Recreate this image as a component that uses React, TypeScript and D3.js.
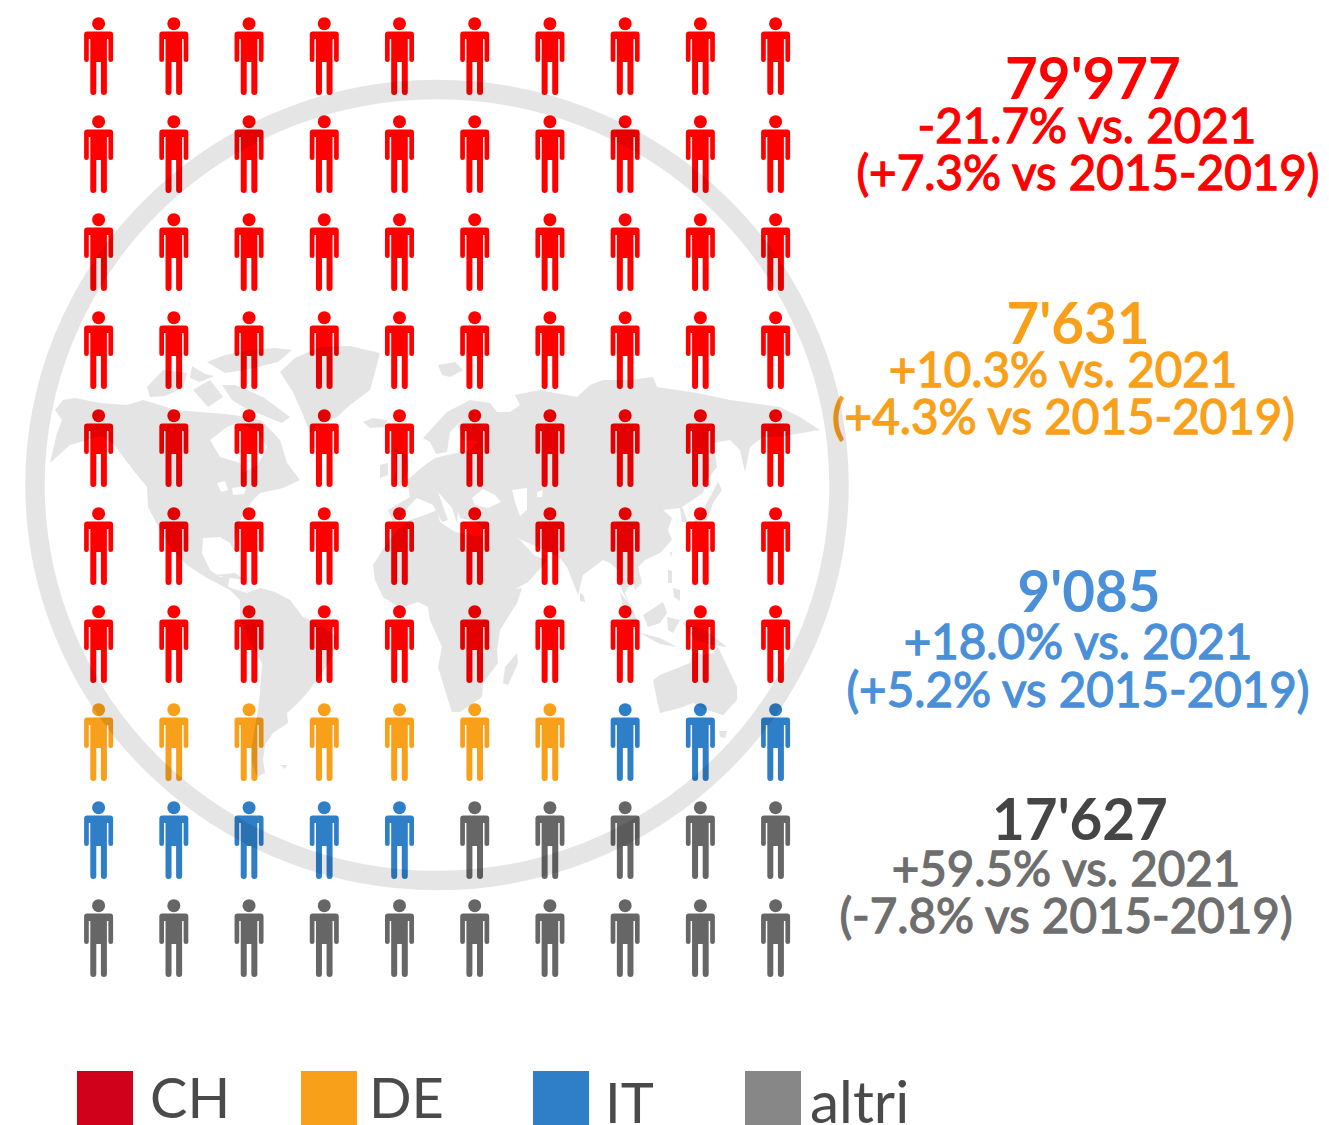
import React from "react";
import * as d3 from "d3";

// ---- data ----
const categories = ["CH", "DE", "IT", "altri"];
const figureCounts = [70, 7, 8, 15];
const figureColors = ["#ff0000", "#f9a01b", "#2f7ec8", "#666666"];
const legendColors = ["#d0021b", "#f9a01b", "#2f7ec8", "#878787"];
const totals = ["79'977", "7'631", "9'085", "17'627"];
const vs2021 = ["-21.7% vs. 2021", "+10.3% vs. 2021", "+18.0% vs. 2021", "+59.5% vs. 2021"];
const vsBaseline = ["(+7.3% vs 2015-2019)", "(+4.3% vs 2015-2019)", "(+5.2% vs 2015-2019)", "(-7.8% vs 2015-2019)"];
const totalColors = ["#ff0000", "#f9a01b", "#4a90d9", "#454545"];
const detailColors = ["#ff0000", "#f9a01b", "#4a90d9", "#6e6e6e"];

const columns = d3.range(10);
const rows = d3.range(10);

// decorative world map outlines, in map units
type Ring = [number, number][];
const northAmerica: Ring[] = [
  [[55,410],[63,400],[75,398],[100,403],[127,405],[143,400],[160,405],[175,410],[200,412],[225,414],[247,417],[262,421],[280,440],[287,463],[300,480],[283,488],[260,493],[253,500],[243,513],[237,530],[233,543],[238,557],[230,543],[220,537],[203,538],[202,553],[210,570],[220,577],[230,575],[228,587],[247,593],[240,600],[230,590],[207,578],[187,565],[172,550],[160,530],[148,507],[147,487],[133,470],[113,443],[100,436],[87,440],[70,445],[50,463],[57,433],[62,420]],
  [[210,440],[227,427],[237,423],[257,430],[267,447],[258,465],[243,473],[240,463],[220,457]],
  [[217,483],[225,481],[228,490],[221,492]],
  [[232,488],[247,486],[244,494],[233,495]],
];
const greenland: Ring[] = [[[280,372],[295,358],[320,347],[350,346],[380,353],[375,372],[370,390],[350,405],[337,417],[318,425],[310,433],[303,415],[293,392]]];
const arcticIslands: Ring[][] = [
  [[[222,385],[235,385],[263,397],[290,417],[282,423],[262,415],[245,408],[232,400]]],
  [[[207,362],[225,355],[250,350],[275,348],[292,350],[278,362],[245,370],[225,373]]],
  [[[147,387],[163,370],[187,373],[183,388],[165,396],[150,397]]],
  [[[193,390],[210,380],[223,397],[208,407]]],
  [[[192,366],[205,374],[214,376],[200,382],[190,378]]],
];
const southAmerica: Ring[] = [[[247,593],[260,588],[275,592],[290,600],[303,617],[320,625],[337,637],[333,655],[323,672],[307,693],[296,705],[287,713],[288,723],[273,733],[265,745],[263,760],[265,773],[257,777],[252,763],[252,745],[255,727],[258,710],[260,693],[262,663],[250,643],[240,620],[240,600]]];
const eurasia: Ring[] = [
  [[393,522],[388,510],[410,497],[407,480],[425,465],[435,458],[447,455],[470,450],[478,441],[462,440],[458,425],[467,415],[450,432],[447,452],[436,454],[430,442],[423,438],[447,412],[470,400],[490,403],[497,412],[510,412],[520,405],[515,395],[540,390],[555,393],[577,397],[590,385],[603,380],[630,380],[653,377],[657,387],[697,393],[730,400],[780,407],[800,417],[820,430],[807,432],[780,437],[763,437],[750,447],[745,472],[740,450],[730,440],[713,443],[717,467],[707,480],[703,493],[682,507],[688,523],[682,522],[680,508],[663,510],[672,518],[668,530],[672,540],[660,553],[645,560],[638,567],[642,583],[635,590],[632,580],[625,593],[630,605],[622,590],[618,570],[610,563],[603,560],[583,575],[578,595],[567,567],[560,558],[540,548],[515,537],[520,540],[535,556],[548,560],[528,582],[505,595],[490,555],[482,535],[482,527],[477,522],[460,518],[458,512],[457,523],[452,508],[438,492],[448,520],[442,522],[433,505],[417,498],[410,505],[400,518]],
  [[472,498],[483,489],[495,495],[501,502],[488,508],[475,505]],
  [[512,490],[527,488],[527,510],[520,516],[515,502]],
  [[537,492],[543,490],[542,497],[537,497]],
];
const africa: Ring[] = [[[375,580],[373,565],[387,543],[397,530],[410,520],[425,515],[437,510],[440,522],[455,532],[470,535],[490,538],[493,560],[507,583],[510,590],[522,588],[517,603],[500,630],[497,650],[498,663],[483,683],[482,697],[460,712],[452,712],[448,700],[438,667],[442,647],[430,620],[428,607],[418,602],[400,608],[383,597]]];
const australia: Ring[] = [[[653,680],[660,675],[690,663],[693,650],[703,655],[713,653],[718,647],[728,668],[737,687],[737,700],[723,715],[707,710],[693,703],[680,708],[660,713],[657,700]]];
const smallIslands: Ring[][] = [
  [[[517,653],[518,663],[508,685],[503,683],[505,667]]],
  [[[393,447],[407,455],[408,470],[400,487],[393,480],[397,468]]],
  [[[380,465],[388,463],[388,475],[380,478]]],
  [[[363,422],[373,418],[387,420],[385,427],[370,428]]],
  [[[438,365],[455,362],[463,370],[450,377],[442,375]]],
  [[[620,593],[630,604],[640,627],[632,622],[623,608]]],
  [[[640,633],[660,638],[677,647],[660,644]]],
  [[[643,615],[663,602],[667,613],[660,623],[648,627]]],
  [[[667,617],[680,620],[673,633],[668,630]]],
  [[[668,570],[672,571],[672,583],[668,583]]],
  [[[673,588],[680,590],[680,601],[674,597]]],
  [[[670,552],[672,552],[671,558]]],
  [[[683,623],[705,630],[727,647],[712,645],[695,640]]],
  [[[719,731],[727,731],[725,738],[720,737]]],
  [[[580,593],[584,596],[585,602],[580,601]]],
  [[[718,482],[722,490],[713,503],[707,520],[693,523],[703,510]]],
  [[[215,575],[235,573],[245,580],[230,578]]],
  [[[280,765],[287,765],[285,769]]],
];

const landmasses: Ring[][] = [northAmerica, greenland, ...arcticIslands, southAmerica, eurasia, africa, australia, ...smallIslands];

// ---- layout ----
const colX = d3.scaleLinear().domain([0, 9]).range([98.6, 775.6]);
const rowY = d3.scaleLinear().domain([0, 9]).range([17, 899]);
const line = d3.line().curve(d3.curveLinearClosed);
const FIGURE_BODY =
  "M-11.5 14.5H11.5Q14.5 14.5 14.5 17.5V43Q14.5 45 12.2 45Q9.8 45 9.8 43V22H8.3V75Q8.3 78 5.3 78Q2.3 78 2.3 75V45H-2.3V75Q-2.3 78-5.3 78Q-8.3 78-8.3 75V22H-9.8V43Q-9.8 45-12.2 45Q-14.5 45-14.5 43V17.5Q-14.5 14.5-11.5 14.5Z";

const blockX = [
  [1093, 1087, 1088],
  [1078, 1063, 1063.5],
  [1089, 1078, 1078],
  [1080, 1066, 1066],
];
const blockY = [
  [99, 143, 190],
  [344, 387, 434],
  [612, 659, 707],
  [840, 886, 933],
];
const legendX = [77, 301, 533, 745];
const legendTextX = [150, 369, 605, 810];
const legendBase = [1118, 1118, 1123, 1123];
const legendSize = [56, 56, 56, 58.5];

const FONT = "Lato, sans-serif";

export default function App() {
  const assignment: number[] = categories.flatMap((_, i) => d3.range(figureCounts[i]).map(() => i));
  return (
    <svg width={1329} height={1125} style={{ position: "absolute", left: 0, top: 0 }} fontFamily={FONT}>
      <rect width={1329} height={1125} fill="#fff" />
      {rows.map((r) =>
        columns.map((c) => {
          const cat = assignment[r * 10 + c];
          return (
            <g key={`${r}-${c}`} transform={`translate(${colX(c)},${rowY(r)})`} fill={figureColors[cat]}>
              <circle cy={6.7} r={6.5} />
              <path d={FIGURE_BODY} />
            </g>
          );
        })
      )}
      {categories.map((_, i) => (
        <g key={i} textAnchor="middle">
          <text x={blockX[i][0]} y={blockY[i][0]} fontSize={56.5} fontWeight={700} fill={totalColors[i]}>{totals[i]}</text>
          <text x={blockX[i][1]} y={blockY[i][1]} fontSize={47.5} fontWeight={400} fill={detailColors[i]} stroke={detailColors[i]} strokeWidth={1.3}>{vs2021[i]}</text>
          <text x={blockX[i][2]} y={blockY[i][2]} fontSize={47.5} fontWeight={400} fill={detailColors[i]} stroke={detailColors[i]} strokeWidth={1.3}>{vsBaseline[i]}</text>
        </g>
      ))}
      <g fill="#000" opacity={0.1}>
        {landmasses.map((rings, i) => (
          <path key={i} fillRule="evenodd" d={rings.map((ring) => line(ring)).join("")} />
        ))}
      </g>
      <ellipse cx={437} cy={485} rx={402} ry={395.5} fill="none" stroke="#000" strokeOpacity={0.1} strokeWidth={19.5} />
      {categories.map((name, i) => (
        <g key={name}>
          <rect x={legendX[i]} y={1071} width={56} height={54} fill={legendColors[i]} />
          <text x={legendTextX[i]} y={legendBase[i]} fontSize={legendSize[i]} fontWeight={400} fill="#4a4a4a">{name}</text>
        </g>
      ))}
    </svg>
  );
}
